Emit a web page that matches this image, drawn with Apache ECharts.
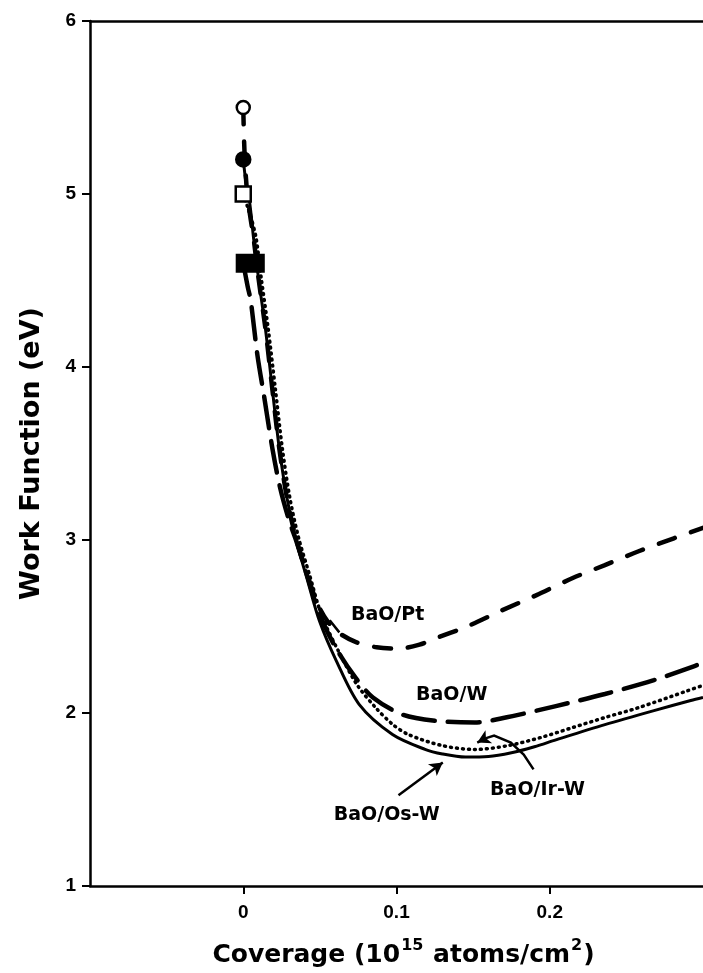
<!DOCTYPE html>
<html>
<head>
<meta charset="utf-8">
<script src="https://cdn.jsdelivr.net/npm/echarts@6/dist/echarts.min.js"></script>
<style>
  html, body { margin: 0; padding: 0; background: #fff; }
  #chart { width: 703px; height: 973px; }
</style>
</head>
<body>
<div id="chart"></div>
<script>
// Work function vs. BaO coverage, curves as [coverage, eV]
const coverageTicks = [0, 0.1, 0.2];
const workTicks = [1, 2, 3, 4, 5, 6];

const baoPt = [
  [0, 5.5], [0.001, 5.2], [0.003, 4.97], [0.0068, 4.74], [0.010, 4.51], [0.0145, 4.22],
  [0.019, 3.87], [0.0235, 3.53], [0.0286, 3.24], [0.0344, 3.01], [0.0415, 2.81],
  [0.048, 2.64], [0.055, 2.53], [0.063, 2.46], [0.0736, 2.41], [0.087, 2.38],
  [0.101, 2.372], [0.115, 2.395], [0.125, 2.43], [0.146, 2.50], [0.168, 2.59],
  [0.191, 2.68], [0.215, 2.78], [0.236, 2.855], [0.258, 2.935], [0.281, 3.01], [0.30, 3.07]
];

const baoW = [
  [0, 4.6], [0.003, 4.46], [0.0048, 4.39], [0.0093, 4.065], [0.0138, 3.82], [0.019, 3.53],
  [0.0241, 3.30], [0.030, 3.11], [0.0344, 3.00], [0.0415, 2.80], [0.0498, 2.57],
  [0.0608, 2.37], [0.0736, 2.20], [0.0846, 2.09], [0.104, 1.99], [0.125, 1.955],
  [0.151, 1.945], [0.172, 1.975], [0.204, 2.04], [0.236, 2.11], [0.268, 2.19],
  [0.294, 2.27], [0.30, 2.29]
];

const baoIrW = [
  [0, 5.0], [0.0055, 4.85], [0.0085, 4.74], [0.0118, 4.51], [0.0163, 4.22], [0.021, 3.87],
  [0.0255, 3.53], [0.0305, 3.24], [0.0362, 3.01], [0.0432, 2.80], [0.0513, 2.56],
  [0.062, 2.36], [0.0745, 2.16], [0.0865, 2.03], [0.0974, 1.935], [0.1077, 1.876],
  [0.1296, 1.812], [0.151, 1.789], [0.172, 1.81], [0.194, 1.858], [0.215, 1.916],
  [0.236, 1.974], [0.258, 2.031], [0.290, 2.129], [0.30, 2.16]
];

const baoOsW = [
  [0, 5.2], [0.002, 5.05], [0.0042, 4.95], [0.0068, 4.74], [0.010, 4.51], [0.0145, 4.22],
  [0.019, 3.87], [0.0235, 3.53], [0.0286, 3.24], [0.0344, 3.0], [0.0415, 2.78],
  [0.0498, 2.53], [0.0608, 2.30], [0.0756, 2.05], [0.0974, 1.876], [0.1186, 1.79],
  [0.13, 1.763], [0.145, 1.745], [0.16, 1.748], [0.175, 1.77], [0.19, 1.805],
  [0.204, 1.845], [0.236, 1.933], [0.268, 2.014], [0.292, 2.072], [0.30, 2.09]
];

const curveNames = ['BaO/Pt', 'BaO/W', 'BaO/Ir-W', 'BaO/Os-W'];

const ink = '#000';
const tickFont = { color: ink, fontFamily: 'Liberation Sans, Arial, sans-serif', fontWeight: 'bold', fontSize: 19 };
const nameFont = { color: ink, fontFamily: 'DejaVu Sans, sans-serif', fontWeight: 'bold', fontSize: 25 };
const tagFont = { color: ink, fontFamily: 'DejaVu Sans, sans-serif', fontWeight: 'bold', fontSize: 19 };

function curve(name, data, lineStyle) {
  return {
    name, type: 'line', data,
    smooth: 0.3,
    showSymbol: false, silent: true, z: 3,
    lineStyle: Object.assign({ color: ink, width: 3, opacity: 1 }, lineStyle)
  };
}

function startMarker(point, symbol, size, filled, offset) {
  return {
    type: 'scatter', data: [point], symbol, symbolSize: size,
    symbolOffset: offset || [0, 0], silent: true, z: 5,
    itemStyle: { color: filled ? ink : '#fff', borderColor: ink, borderWidth: 2.5, opacity: 1 }
  };
}

// curve name tags, placed in data coordinates
const tagData = [
  { value: [0.0942, 2.567], label: { formatter: curveNames[0] } },
  { value: [0.136, 2.106], label: { formatter: curveNames[1] } },
  { value: [0.192, 1.553], label: { formatter: curveNames[2] } },
  { value: [0.0936, 1.409], label: { formatter: curveNames[3] } }
];

const chart = echarts.init(document.getElementById('chart'), null, { renderer: 'canvas' });

chart.setOption({
  backgroundColor: '#fff',
  animation: false,
  grid: { left: 90, top: 21, width: 622, height: 868, containLabel: false },
  xAxis: [{
    type: 'value', min: -0.1, max: 0.3, interval: 0.1,
    name: '{t|Coverage (10}{s|15}{t| atoms/cm}{s|2}{t|)}',
    nameLocation: 'middle', nameGap: 52,
    nameTextStyle: {
      padding: [0, 0, 0, 14],
      rich: {
        t: Object.assign({}, nameFont, { verticalAlign: 'bottom', lineHeight: 30 }),
        s: Object.assign({}, nameFont, { fontSize: 16, verticalAlign: 'top', padding: [0, 1, 14, 1], lineHeight: 30 })
      }
    },
    axisLine: { show: true, onZero: false, lineStyle: { color: ink, width: 2.5 } },
    axisTick: { show: true, inside: false, length: 8, customValues: coverageTicks, lineStyle: { color: ink, width: 2 } },
    axisLabel: Object.assign({}, tickFont, {
      margin: 17, customValues: coverageTicks,
      formatter: v => (Math.abs(v) < 1e-9 ? '0' : String(Math.round(v * 10) / 10))
    }),
    splitLine: { show: false }
  }, {
    type: 'value', position: 'top', min: -0.1, max: 0.3,
    axisLine: { show: true, onZero: false, lineStyle: { color: ink, width: 2.5 } },
    axisTick: { show: false }, axisLabel: { show: false }, splitLine: { show: false }
  }],
  yAxis: {
    type: 'value', min: 1, max: 6, interval: 1,
    name: 'Work Function (eV)', nameLocation: 'middle', nameGap: 45, nameRotate: 90,
    nameTextStyle: Object.assign({}, nameFont, { fontSize: 27 }),
    axisLine: { show: true, onZero: false, lineStyle: { color: ink, width: 2.5 } },
    axisTick: { show: true, inside: false, length: 8, lineStyle: { color: ink, width: 2 } },
    axisLabel: Object.assign({}, tickFont, { margin: 14, formatter: v => String(v) }),
    splitLine: { show: false }
  },
  series: [
    curve(curveNames[3], baoOsW, { width: 3 }),
    curve(curveNames[2], baoIrW, { width: 3.5, type: [1, 5], cap: 'round' }),
    curve(curveNames[1], baoW, { width: 4.5, type: [32, 13], cap: 'round' }),
    curve(curveNames[0], baoPt, { width: 4.5, type: [17, 17], cap: 'round' }),
    startMarker(baoPt[0], 'circle', 13, false),
    startMarker(baoOsW[0], 'circle', 14, true),
    startMarker(baoIrW[0], 'rect', 15, false),
    startMarker(baoW[0], 'rect', [26, 17], true, [7, 0]),
    {
      type: 'scatter', data: tagData, symbolSize: 1, silent: true, z: 6,
      itemStyle: { opacity: 0 },
      label: Object.assign({ show: true, position: 'inside', opacity: 1 }, tagFont)
    },
    {
      // bent shaft of the Ir-W pointer and the small leader beside the Pt tag
      type: 'lines', coordinateSystem: 'cartesian2d', polyline: true, silent: true, z: 6,
      lineStyle: { color: ink, width: 2.5, opacity: 1, curveness: 0 },
      data: [
        { coords: [[0.1894, 1.674], [0.183, 1.76], [0.1746, 1.829], [0.1637, 1.869], [0.158, 1.853]] },
        { coords: [[0.0537, 2.51], [0.0569, 2.53], [0.0627, 2.466]] }
      ]
    },
    {
      // arrow-tipped pointers
      type: 'line', data: [], silent: true, z: 6,
      markLine: {
        silent: true, animation: false,
        symbol: ['none', 'arrow'], symbolSize: [11, 13],
        label: { show: false },
        lineStyle: { color: ink, width: 2.5, type: 'solid', opacity: 1 },
        data: [
          [{ coord: [0.1013, 1.524] }, { coord: [0.1302, 1.714] }],
          [{ coord: [0.158, 1.853] }, { coord: [0.1527, 1.829] }]
        ]
      }
    }
  ]
});
</script>
</body>
</html>
